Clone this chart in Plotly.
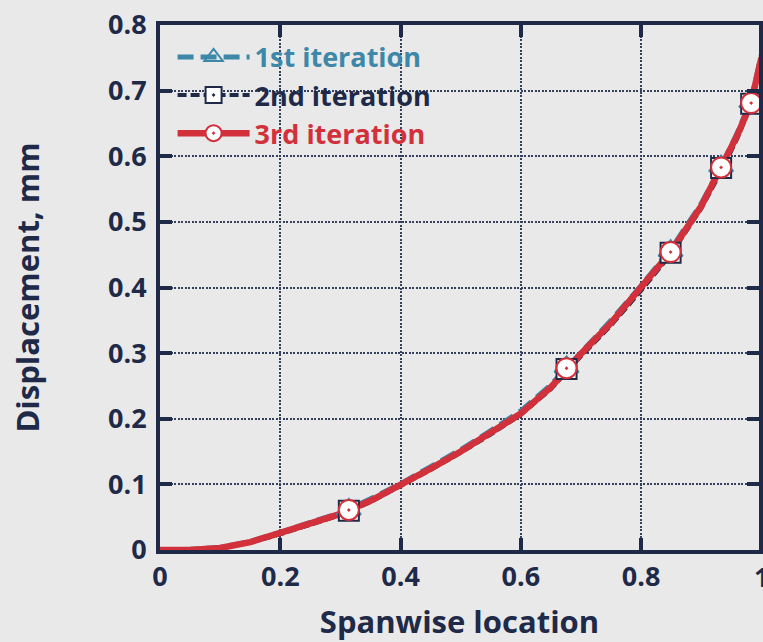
import plotly.graph_objects as go

# ---- data ----
x_curve = [0.0, 0.05, 0.1, 0.15, 0.2, 0.25, 0.3, 0.35, 0.4, 0.45, 0.5, 0.55,
           0.6, 0.65, 0.7, 0.75, 0.8, 0.85, 0.9, 0.935, 0.96, 0.983, 1.0]
y_iter1 = [0.0, 0.001, 0.004, 0.013, 0.027, 0.042, 0.057, 0.078, 0.101, 0.127, 0.153, 0.182,
           0.212, 0.252, 0.302, 0.350, 0.403, 0.459, 0.528, 0.588, 0.636, 0.686, 0.755]
y_iter2 = [0.0, 0.0, 0.002, 0.011, 0.024, 0.038, 0.053, 0.073, 0.097, 0.122, 0.148, 0.176,
           0.206, 0.245, 0.295, 0.342, 0.395, 0.451, 0.520, 0.580, 0.627, 0.678, 0.745]
y_iter3 = [0.0, 0.0, 0.003, 0.012, 0.026, 0.040, 0.055, 0.075, 0.099, 0.124, 0.150, 0.178,
           0.208, 0.248, 0.299, 0.346, 0.399, 0.455, 0.524, 0.584, 0.632, 0.682, 0.750]

x_markers = [0.314, 0.676, 0.849, 0.933, 0.983]
y_markers1 = [0.062, 0.279, 0.456, 0.585, 0.683]
y_markers2 = [0.060, 0.276, 0.453, 0.582, 0.680]
y_markers3 = [0.061, 0.277, 0.454, 0.583, 0.681]

series_names = ["1st iteration", "2nd iteration", "3rd iteration"]
x_ticks = [0, 0.2, 0.4, 0.6, 0.8, 1]
x_ticktext = ["0", "0.2", "0.4", "0.6", "0.8", "1"]
y_ticks = [0, 0.1, 0.2, 0.3, 0.4, 0.5, 0.6, 0.7, 0.8]
y_ticktext = ["0", "0.1", "0.2", "0.3", "0.4", "0.5", "0.6", "0.7", "0.8"]

NAVY = "#1f2a48"
TEAL = "#3d88a8"
RED = "#d2313b"
BG = "#e9e9e9"
FONT = "Open Sans"

fig = go.Figure()

# lines
fig.add_trace(go.Scatter(x=x_curve, y=y_iter1, mode="lines", showlegend=False,
                         line=dict(color=TEAL, width=5, dash="16px,7px")))
fig.add_trace(go.Scatter(x=x_curve, y=y_iter2, mode="lines", showlegend=False,
                         line=dict(color=NAVY, width=4, dash="9px,4px")))
fig.add_trace(go.Scatter(x=x_curve, y=y_iter3, mode="lines", showlegend=False,
                         line=dict(color=RED, width=6.5)))

# markers
fig.add_trace(go.Scatter(x=x_markers, y=y_markers1, mode="markers", showlegend=False,
                         marker=dict(symbol="triangle-up-open", size=21, color=TEAL,
                                     line=dict(width=2, color=TEAL))))
fig.add_trace(go.Scatter(x=x_markers, y=y_markers2, mode="markers", showlegend=False,
                         marker=dict(symbol="square-dot", size=20, color="white",
                                     line=dict(width=2, color=NAVY))))
fig.add_trace(go.Scatter(x=x_markers, y=y_markers3, mode="markers", showlegend=False,
                         marker=dict(symbol="circle-dot", size=20, color="white",
                                     line=dict(width=2, color=RED))))

# legend entries
fig.add_trace(go.Scatter(x=[None], y=[None], mode="lines+markers",
                         name=f'<span style="color:{TEAL}">{series_names[0]}</span>',
                         line=dict(color=TEAL, width=5, dash="16px,7px"),
                         marker=dict(symbol="triangle-up-open", size=21, color=TEAL,
                                     line=dict(width=2, color=TEAL))))
fig.add_trace(go.Scatter(x=[None], y=[None], mode="lines+markers",
                         name=f'<span style="color:{NAVY}">{series_names[1]}</span>',
                         line=dict(color=NAVY, width=4, dash="9px,4px"),
                         marker=dict(symbol="square-dot", size=20, color="white",
                                     line=dict(width=2, color=NAVY))))
fig.add_trace(go.Scatter(x=[None], y=[None], mode="lines+markers",
                         name=f'<span style="color:{RED}">{series_names[2]}</span>',
                         line=dict(color=RED, width=6.5),
                         marker=dict(symbol="circle-dot", size=20, color="white",
                                     line=dict(width=2, color=RED))))

axis_common = dict(
    showline=True, linecolor=NAVY, linewidth=4, mirror="ticks",
    ticks="inside", ticklen=12, tickwidth=4, tickcolor=NAVY,
    showgrid=True, gridcolor="#34405c", gridwidth=2, griddash="2px,1.5px",
    zeroline=False,
    tickfont=dict(family=FONT, size=27, color=NAVY, weight="bold"),
)

fig.update_layout(
    width=763, height=642,
    margin=dict(l=160, r=0, t=25, b=92),
    paper_bgcolor=BG, plot_bgcolor=BG,
    xaxis=dict(range=[0, 0.996], tickvals=x_ticks, ticktext=x_ticktext,
               title=dict(text="Spanwise location", standoff=20,
                          font=dict(family=FONT, size=31, color=NAVY, weight="bold")),
               **axis_common),
    yaxis=dict(range=[0, 0.8], tickvals=y_ticks, ticktext=y_ticktext,
               ticklabelstandoff=4,
               title=dict(text="Displacement, mm", standoff=60,
                          font=dict(family=FONT, size=31, color=NAVY, weight="bold")),
               **axis_common),
    legend=dict(x=0.021, y=0.985, xanchor="left", yanchor="top",
                bgcolor="rgba(0,0,0,0)", itemwidth=72,
                font=dict(family=FONT, size=27, weight="bold"),
                tracegroupgap=0),
    showlegend=True,
)

fig.add_annotation(x=1.004, y=0, xref="paper", yref="paper",
                   xanchor="center", yanchor="top",
                   yshift=-6, text="1", showarrow=False,
                   font=dict(family=FONT, size=27, color=NAVY, weight="bold"))

fig.write_html("out.html")
